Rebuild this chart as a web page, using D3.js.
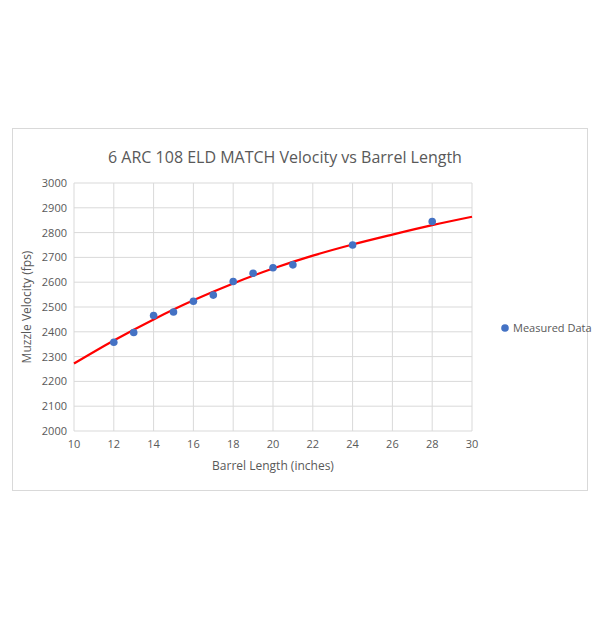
<!DOCTYPE html><html><head><meta charset="utf-8"><script src="https://cdn.jsdelivr.net/npm/d3@7"></script>
<style>body{margin:0;background:#fff}</style></head><body><svg id="c" width="600" height="624"></svg><script>
const measuredX=[12,13,14,15,16,17,18,19,20,21,24,28];
const measuredY=[2358,2397,2466,2480,2523,2548,2603,2636,2658,2670,2750,2845];
const trendX=[10,12,14,16,18,20,22,24,26,28,30];
const trendY=[2272,2365,2450,2527,2595,2655,2707,2752,2792,2830,2864];
const xTicks=[10,12,14,16,18,20,22,24,26,28,30];
const yTicks=[2000,2100,2200,2300,2400,2500,2600,2700,2800,2900,3000];
const svg=d3.select("#c");
svg.append("rect").attr("x",12.5).attr("y",128.5).attr("width",575).attr("height",362).attr("fill","#fff").attr("stroke","#d9d9d9");
const x=d3.scaleLinear().domain([10,30]).range([74,472]);
const y=d3.scaleLinear().domain([2000,3000]).range([431,183]);
const f="'Open Sans',Calibri,sans-serif";
const g=svg.append("g");
g.selectAll(".vx").data(xTicks).join("line").attr("x1",d=>x(d)).attr("x2",d=>x(d)).attr("y1",183).attr("y2",431).attr("stroke","#d9d9d9");
g.selectAll(".hy").data(yTicks).join("line").attr("y1",d=>y(d)).attr("y2",d=>y(d)).attr("x1",74).attr("x2",472).attr("stroke","#d9d9d9");
g.selectAll(".xt").data(xTicks).join("text").attr("x",d=>x(d)).attr("y",448).attr("text-anchor","middle").attr("font-family",f).attr("font-size",11).attr("fill","#595959").text(d=>d);
g.selectAll(".yt").data(yTicks).join("text").attr("x",67).attr("y",d=>y(d)+4).attr("text-anchor","end").attr("font-family",f).attr("font-size",11).attr("fill","#595959").text(d=>d);
svg.append("text").attr("x",285).attr("y",163).attr("text-anchor","middle").attr("font-family",f).attr("font-size",16).attr("fill","#595959").text("6 ARC 108 ELD MATCH Velocity vs Barrel Length");
svg.append("text").attr("x",273).attr("y",470).attr("text-anchor","middle").attr("font-family",f).attr("font-size",12).attr("fill","#595959").text("Barrel Length (inches)");
svg.append("text").attr("transform","translate(31,307) rotate(-90)").attr("text-anchor","middle").attr("font-family",f).attr("font-size",12).attr("fill","#595959").text("Muzzle Velocity (fps)");
const pts=trendX.map((d,i)=>[d,trendY[i]]);
svg.append("path").attr("d",d3.line().x(d=>x(d[0])).y(d=>y(d[1])).curve(d3.curveCatmullRom)(pts)).attr("fill","none").attr("stroke","#ff0000").attr("stroke-width",2.2);
svg.selectAll(".pt").data(measuredX).join("circle").attr("cx",d=>x(d)).attr("cy",(d,i)=>y(measuredY[i])).attr("r",3.8).attr("fill","#4472c4");
svg.append("circle").attr("cx",505).attr("cy",328).attr("r",3.8).attr("fill","#4472c4");
svg.append("text").attr("x",513).attr("y",332).attr("font-family",f).attr("font-size",11).attr("fill","#595959").text("Measured Data");
</script></body></html>
